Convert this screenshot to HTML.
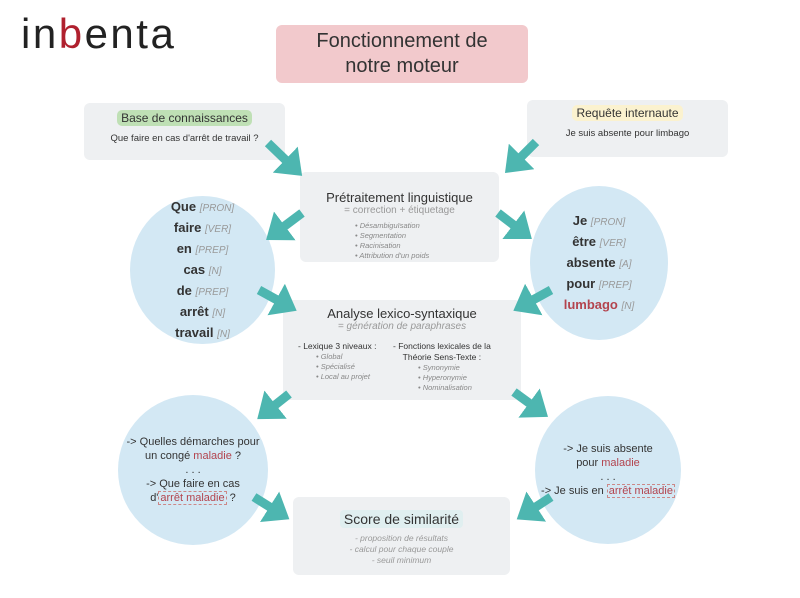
<!DOCTYPE html>
<html><head><meta charset="utf-8"><style>
body{margin:0;width:800px;height:598px;background:#fff;position:relative;overflow:hidden;font-family:"Liberation Sans","DejaVu Sans",sans-serif;color:#333}
.a{position:absolute}
.box{position:absolute;background:#eef0f2;border-radius:6px;text-align:center}
.c{position:absolute;background:#d3e8f4;border-radius:50%;display:flex;flex-direction:column;justify-content:center;align-items:center;text-align:center}
.t{color:#999;font-style:italic;font-weight:normal;font-size:10px}
.r{color:#b3444e}
.w{font-weight:bold;font-size:13px;line-height:19px;color:#333}
.s{font-size:7.5px;font-style:italic;color:#888;line-height:10px;text-align:left}
.q{font-size:11px;line-height:14px;color:#333}
.bx{border:1px dashed #c88;padding:0 1px}
</style></head><body>
<div class="a" style="left:21px;top:10px;font-size:42px;line-height:48px;color:#222;letter-spacing:2.5px">in<span style="color:#b0202e">b</span>enta</div>
<div class="box" style="left:276px;top:25px;width:252px;height:58px;background:#f2c9cc;font-size:20px;line-height:25px;padding-top:4px;box-sizing:border-box;color:#333">Fonctionnement de<br>notre moteur</div>
<div class="box" style="left:84px;top:103px;width:201px;height:57px">
<div style="display:inline-block;background:#bfe0b5;border-radius:5px;padding:0 4px;font-size:12px;margin-top:7px;line-height:16px">Base de connaissances</div>
<div style="font-size:9.5px;margin-top:6px">Que faire en cas d'arrêt de travail ?</div></div>
<div class="box" style="left:527px;top:100px;width:201px;height:57px">
<div style="display:inline-block;background:#fbf2cf;border-radius:5px;padding:0 4px;font-size:12px;margin-top:5px;line-height:16px">Requête internaute</div>
<div style="font-size:9.5px;margin-top:6px">Je suis absente pour limbago</div></div>
<div class="box" style="left:300px;top:172px;width:199px;height:90px">
<div style="font-size:13px;margin-top:18px">Prétraitement linguistique</div>
<div style="font-size:10px;color:#999;line-height:11px">= correction + étiquetage</div>
<div class="s" style="margin:5px 0 0 55px">• Désambiguïsation<br>• Segmentation<br>• Racinisation<br>• Attribution d'un poids</div></div>
<div class="box" style="left:283px;top:300px;width:238px;height:100px">
<div style="font-size:13px;margin-top:6px">Analyse lexico-syntaxique</div>
<div style="font-size:10px;color:#999;font-style:italic;line-height:11px">= génération de paraphrases</div>
<div class="a" style="left:15px;top:41px;font-size:8.5px;text-align:left;line-height:11px">- Lexique 3 niveaux :<div class="s" style="margin-left:18px">• Global<br>• Spécialisé<br>• Local au projet</div></div>
<div class="a" style="left:110px;top:41px;font-size:8.5px;text-align:center;line-height:11px">- Fonctions lexicales de la<br>Théorie Sens-Texte :<div class="s" style="margin-left:25px">• Synonymie<br>• Hyperonymie<br>• Nominalisation</div></div></div>
<div class="box" style="left:293px;top:497px;width:217px;height:78px">
<div style="display:inline-block;background:#e0eff0;border-radius:4px;padding:0 4px;font-size:14px;margin-top:13px;line-height:18px">Score de similarité</div>
<div style="font-size:8.5px;font-style:italic;color:#999;line-height:11px;margin-top:4px">- proposition de résultats<br>- calcul pour chaque couple<br>- seuil minimum</div></div>
<div class="c" style="left:130px;top:196px;width:145px;height:148px"><div class="w">Que <span class="t">[PRON]</span><br>faire <span class="t">[VER]</span><br>en <span class="t">[PREP]</span><br>cas <span class="t">[N]</span><br>de <span class="t">[PREP]</span><br>arrêt <span class="t">[N]</span><br>travail <span class="t">[N]</span></div></div>
<div class="c" style="left:530px;top:186px;width:138px;height:154px"><div class="w">Je <span class="t">[PRON]</span><br>être <span class="t">[VER]</span><br>absente <span class="t">[A]</span><br>pour <span class="t">[PREP]</span><br><span class="r">lumbago</span> <span class="t">[N]</span></div></div>
<div class="c" style="left:118px;top:395px;width:150px;height:150px"><div class="q">-&gt; Quelles démarches pour<br>un congé <span class="r">maladie</span> ?<br>. . .<br>-&gt; Que faire en cas<br>d'<span class="r bx">arrêt maladie</span> ?</div></div>
<div class="c" style="left:535px;top:396px;width:146px;height:148px"><div class="q">-&gt; Je suis absente<br>pour <span class="r">maladie</span><br>. . .<br>-&gt; Je suis en <span class="r bx">arrêt maladie</span></div></div>
<svg class="a" style="left:0;top:0" width="800" height="598">
<defs><marker id="m" markerWidth="4" markerHeight="4" refX="1.5" refY="2" orient="auto" markerUnits="strokeWidth"><path d="M0,0 L2.6,2 L0,4 z" fill="#4db6b0"/></marker></defs>
<g stroke="#4db6b0" stroke-width="9" marker-end="url(#m)">
<line x1="268" y1="143" x2="295" y2="169"/>
<line x1="536" y1="142" x2="512" y2="166"/>
<line x1="302" y1="213" x2="274" y2="234"/>
<line x1="498" y1="213" x2="524" y2="233"/>
<line x1="259" y1="290" x2="288" y2="306"/>
<line x1="551" y1="290" x2="522" y2="306"/>
<line x1="289" y1="394" x2="265" y2="413"/>
<line x1="514" y1="392" x2="540" y2="411"/>
<line x1="254" y1="497" x2="281" y2="514"/>
<line x1="551" y1="497" x2="525" y2="514"/>
</g></svg>
</body></html>
